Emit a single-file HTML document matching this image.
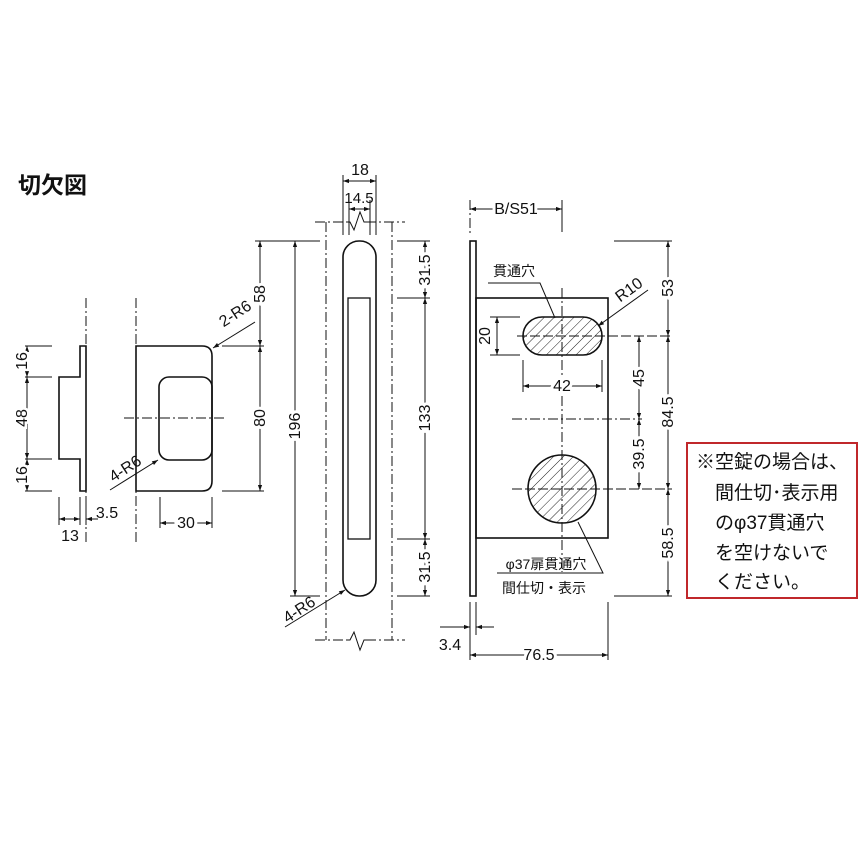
<!DOCTYPE html>
<html><head><meta charset="utf-8"><style>
html,body{margin:0;padding:0;background:#fff}
svg{display:block}
text{font-family:"Liberation Sans","Noto Sans CJK JP",sans-serif;fill:#111}
</style></head><body>
<svg width="867" height="867" viewBox="0 0 867 867" xmlns="http://www.w3.org/2000/svg">
<defs>
<marker id="a" viewBox="0 0 10 10" refX="10" refY="5" markerWidth="8" markerHeight="6" orient="auto-start-reverse" markerUnits="userSpaceOnUse"><path d="M0,1.5L10,5L0,8.5z" fill="#111"/></marker>
<pattern id="h" width="7" height="7" patternUnits="userSpaceOnUse" patternTransform="rotate(45)"><line x1="0" y1="0" x2="0" y2="7" stroke="#222" stroke-width="1"/></pattern>
</defs>
<text x="18" y="193" font-size="23" font-weight="bold">切欠図</text>

<g stroke="#111" fill="none" stroke-width="1">
<!-- left profile -->
<path d="M80,346H86V491H80V459H59V377H80Z" stroke-width="1.6"/>
<line x1="86" y1="298" x2="86" y2="545" stroke-dasharray="10,3,2,3"/>
<line x1="25" y1="346" x2="52" y2="346"/><line x1="25" y1="377" x2="52" y2="377"/>
<line x1="25" y1="459" x2="52" y2="459"/><line x1="25" y1="491" x2="52" y2="491"/>
<line x1="27" y1="346" x2="27" y2="377" marker-start="url(#a)" marker-end="url(#a)"/>
<line x1="27" y1="377" x2="27" y2="459" marker-start="url(#a)" marker-end="url(#a)"/>
<line x1="27" y1="459" x2="27" y2="491" marker-start="url(#a)" marker-end="url(#a)"/>
<line x1="59" y1="497" x2="59" y2="525"/><line x1="80" y1="497" x2="80" y2="525"/><line x1="86" y1="497" x2="86" y2="525"/>
<line x1="59" y1="519" x2="80" y2="519" marker-start="url(#a)" marker-end="url(#a)"/>
<line x1="98" y1="519" x2="86" y2="519" marker-end="url(#a)"/>

<!-- front plate -->
<path d="M136,346H202Q212,346 212,356V481Q212,491 202,491H136Z" stroke-width="1.6"/>
<rect x="159" y="377" width="53" height="83" rx="10" stroke-width="1.6"/>
<line x1="124" y1="418" x2="226" y2="418" stroke-dasharray="10,3,2,3"/>
<line x1="136" y1="298" x2="136" y2="545" stroke-dasharray="10,3,2,3"/>
<line x1="255" y1="322" x2="213" y2="348" marker-end="url(#a)"/>
<line x1="110" y1="490" x2="158" y2="460" marker-end="url(#a)"/>
<line x1="160" y1="497" x2="160" y2="528"/><line x1="212" y1="497" x2="212" y2="528"/>
<line x1="160" y1="523" x2="212" y2="523" marker-start="url(#a)" marker-end="url(#a)"/>
<line x1="222" y1="346" x2="264" y2="346"/><line x1="222" y1="491" x2="264" y2="491"/>
<line x1="255" y1="241" x2="320" y2="241"/>
<line x1="260" y1="241" x2="260" y2="346" marker-start="url(#a)" marker-end="url(#a)"/>
<line x1="260" y1="346" x2="260" y2="491" marker-start="url(#a)" marker-end="url(#a)"/>

<!-- faceplate -->
<rect x="343" y="241" width="33" height="355" rx="16" stroke-width="1.6"/>
<rect x="348" y="298" width="22" height="241" stroke-width="1.3"/>
<path d="M315,222H348" stroke-dasharray="10,3,2,3"/><path d="M366,222H405" stroke-dasharray="10,3,2,3"/>
<path d="M348,222H350L354,230L360,212L364,222H366"/>
<path d="M315,640H348" stroke-dasharray="10,3,2,3"/><path d="M366,640H405" stroke-dasharray="10,3,2,3"/>
<path d="M348,640H350L354,632L360,650L364,640H366"/>
<line x1="326" y1="222" x2="326" y2="640" stroke-dasharray="10,3,2,3"/>
<line x1="392" y1="222" x2="392" y2="640" stroke-dasharray="10,3,2,3"/>
<line x1="343" y1="175" x2="343" y2="235"/><line x1="376" y1="175" x2="376" y2="235"/>
<line x1="349" y1="200" x2="349" y2="235"/><line x1="370" y1="200" x2="370" y2="235"/>
<line x1="343" y1="181" x2="376" y2="181" marker-start="url(#a)" marker-end="url(#a)"/>
<line x1="349" y1="209" x2="370" y2="209" marker-start="url(#a)" marker-end="url(#a)"/>
<line x1="290" y1="596" x2="320" y2="596"/>
<line x1="295" y1="241" x2="295" y2="596" marker-start="url(#a)" marker-end="url(#a)"/>
<line x1="397" y1="241" x2="430" y2="241"/><line x1="397" y1="298" x2="430" y2="298"/>
<line x1="397" y1="539" x2="430" y2="539"/><line x1="397" y1="596" x2="430" y2="596"/>
<line x1="425" y1="241" x2="425" y2="298" marker-start="url(#a)" marker-end="url(#a)"/>
<line x1="425" y1="298" x2="425" y2="539" marker-start="url(#a)" marker-end="url(#a)"/>
<line x1="425" y1="539" x2="425" y2="596" marker-start="url(#a)" marker-end="url(#a)"/>
<line x1="285" y1="627" x2="345" y2="590" marker-end="url(#a)"/>

<!-- side view -->
<rect x="470" y="241" width="6" height="355" stroke-width="1.6"/>
<rect x="476" y="298" width="132" height="240" stroke-width="1.6"/>
<line x1="470" y1="200" x2="470" y2="236" stroke-dasharray="10,3,2,3"/>
<line x1="562" y1="200" x2="562" y2="232"/>
<line x1="562" y1="288" x2="562" y2="572" stroke-dasharray="10,3,2,3"/>
<line x1="470" y1="209" x2="562" y2="209" marker-start="url(#a)" marker-end="url(#a)"/>
<rect x="523" y="317" width="79" height="38" rx="19" fill="url(#h)" stroke-width="1.6"/>
<circle cx="562" cy="489" r="34" fill="url(#h)" stroke-width="1.6"/>
<line x1="517" y1="336" x2="672" y2="336" stroke-dasharray="10,3"/>
<line x1="512" y1="419" x2="642" y2="419" stroke-dasharray="10,3,2,3"/>
<line x1="512" y1="489" x2="672" y2="489" stroke-dasharray="10,3"/>
<line x1="490" y1="317" x2="520" y2="317"/><line x1="490" y1="355" x2="520" y2="355"/>
<line x1="497" y1="317" x2="497" y2="355" marker-start="url(#a)" marker-end="url(#a)"/>
<line x1="523" y1="360" x2="523" y2="392"/><line x1="602" y1="360" x2="602" y2="392"/>
<line x1="523" y1="386" x2="602" y2="386" marker-start="url(#a)" marker-end="url(#a)"/>
<line x1="639" y1="336" x2="639" y2="419" marker-start="url(#a)" marker-end="url(#a)"/>
<line x1="639" y1="419" x2="639" y2="489" marker-start="url(#a)" marker-end="url(#a)"/>
<line x1="614" y1="241" x2="672" y2="241"/><line x1="614" y1="596" x2="672" y2="596"/>
<line x1="668" y1="241" x2="668" y2="336" marker-start="url(#a)" marker-end="url(#a)"/>
<line x1="668" y1="336" x2="668" y2="489" marker-start="url(#a)" marker-end="url(#a)"/>
<line x1="668" y1="489" x2="668" y2="596" marker-start="url(#a)" marker-end="url(#a)"/>
<path d="M488,283H540L555,318"/>
<line x1="648" y1="290" x2="598" y2="326" marker-end="url(#a)"/>
<path d="M497,573H603L578,522"/>
<line x1="470" y1="602" x2="470" y2="660"/><line x1="476" y1="602" x2="476" y2="635"/>
<line x1="608" y1="602" x2="608" y2="660"/>
<line x1="440" y1="627" x2="470" y2="627" marker-end="url(#a)"/>
<line x1="494" y1="627" x2="476" y2="627" marker-end="url(#a)"/>
<line x1="470" y1="655" x2="608" y2="655" marker-start="url(#a)" marker-end="url(#a)"/>
</g>
<rect x="687" y="443" width="170" height="155" fill="none" stroke="#c0282b" stroke-width="2"/>

<g font-size="16" text-anchor="middle">
<g transform="translate(22,361) rotate(-90)"><text dy="5" stroke="#fff" stroke-width="5" style="paint-order:stroke">16</text></g>
<g transform="translate(22,418) rotate(-90)"><text dy="5" stroke="#fff" stroke-width="5" style="paint-order:stroke">48</text></g>
<g transform="translate(22,475) rotate(-90)"><text dy="5" stroke="#fff" stroke-width="5" style="paint-order:stroke">16</text></g>
<text x="107" y="518">3.5</text>
<text x="70" y="541">13</text>
<text x="186" y="528" stroke="#fff" stroke-width="6" style="paint-order:stroke">30</text>
<g transform="translate(238,318) rotate(-33)"><text>2-R6</text></g>
<g transform="translate(128,473) rotate(-33)"><text>4-R6</text></g>
<g transform="translate(260,294) rotate(-90)"><text dy="5" stroke="#fff" stroke-width="6" style="paint-order:stroke">58</text></g>
<g transform="translate(260,418) rotate(-90)"><text dy="5" stroke="#fff" stroke-width="6" style="paint-order:stroke">80</text></g>
<g transform="translate(295,426) rotate(-90)"><text dy="5" stroke="#fff" stroke-width="6" style="paint-order:stroke">196</text></g>
<text x="360" y="175">18</text>
<text x="359" y="203" font-size="15">14.5</text>
<g transform="translate(425,270) rotate(-90)"><text dy="5" stroke="#fff" stroke-width="6" style="paint-order:stroke">31.5</text></g>
<g transform="translate(425,418) rotate(-90)"><text dy="5" stroke="#fff" stroke-width="6" style="paint-order:stroke">133</text></g>
<g transform="translate(425,567) rotate(-90)"><text dy="5" stroke="#fff" stroke-width="6" style="paint-order:stroke">31.5</text></g>
<g transform="translate(302,614) rotate(-33)"><text>4-R6</text></g>
<text x="516" y="214" stroke="#fff" stroke-width="6" style="paint-order:stroke">B/S51</text>
<text x="514" y="276" font-size="14">貫通穴</text>
<g transform="translate(632,294) rotate(-36)"><text>R10</text></g>
<g transform="translate(485,336) rotate(-90)"><text dy="5">20</text></g>
<text x="562" y="391" stroke="#fff" stroke-width="6" style="paint-order:stroke">42</text>
<g transform="translate(639,378) rotate(-90)"><text dy="5" stroke="#fff" stroke-width="6" style="paint-order:stroke">45</text></g>
<g transform="translate(639,454) rotate(-90)"><text dy="5" stroke="#fff" stroke-width="6" style="paint-order:stroke">39.5</text></g>
<g transform="translate(668,288) rotate(-90)"><text dy="5" stroke="#fff" stroke-width="6" style="paint-order:stroke">53</text></g>
<g transform="translate(668,412) rotate(-90)"><text dy="5" stroke="#fff" stroke-width="6" style="paint-order:stroke">84.5</text></g>
<g transform="translate(668,543) rotate(-90)"><text dy="5" stroke="#fff" stroke-width="6" style="paint-order:stroke">58.5</text></g>
<text x="546" y="569" font-size="14">φ37扉貫通穴</text>
<text x="544" y="593" font-size="14">間仕切・表示</text>
<text x="450" y="650">3.4</text>
<text x="539" y="660" stroke="#fff" stroke-width="6" style="paint-order:stroke">76.5</text>
</g>

<g font-size="19">
<text x="696" y="468">※空錠の場合は、</text>
<text x="715" y="499">間仕切･表示用</text>
<text x="715" y="529">のφ37貫通穴</text>
<text x="715" y="559">を空けないで</text>
<text x="715" y="588">ください。</text>
</g>
</svg>
</body></html>
